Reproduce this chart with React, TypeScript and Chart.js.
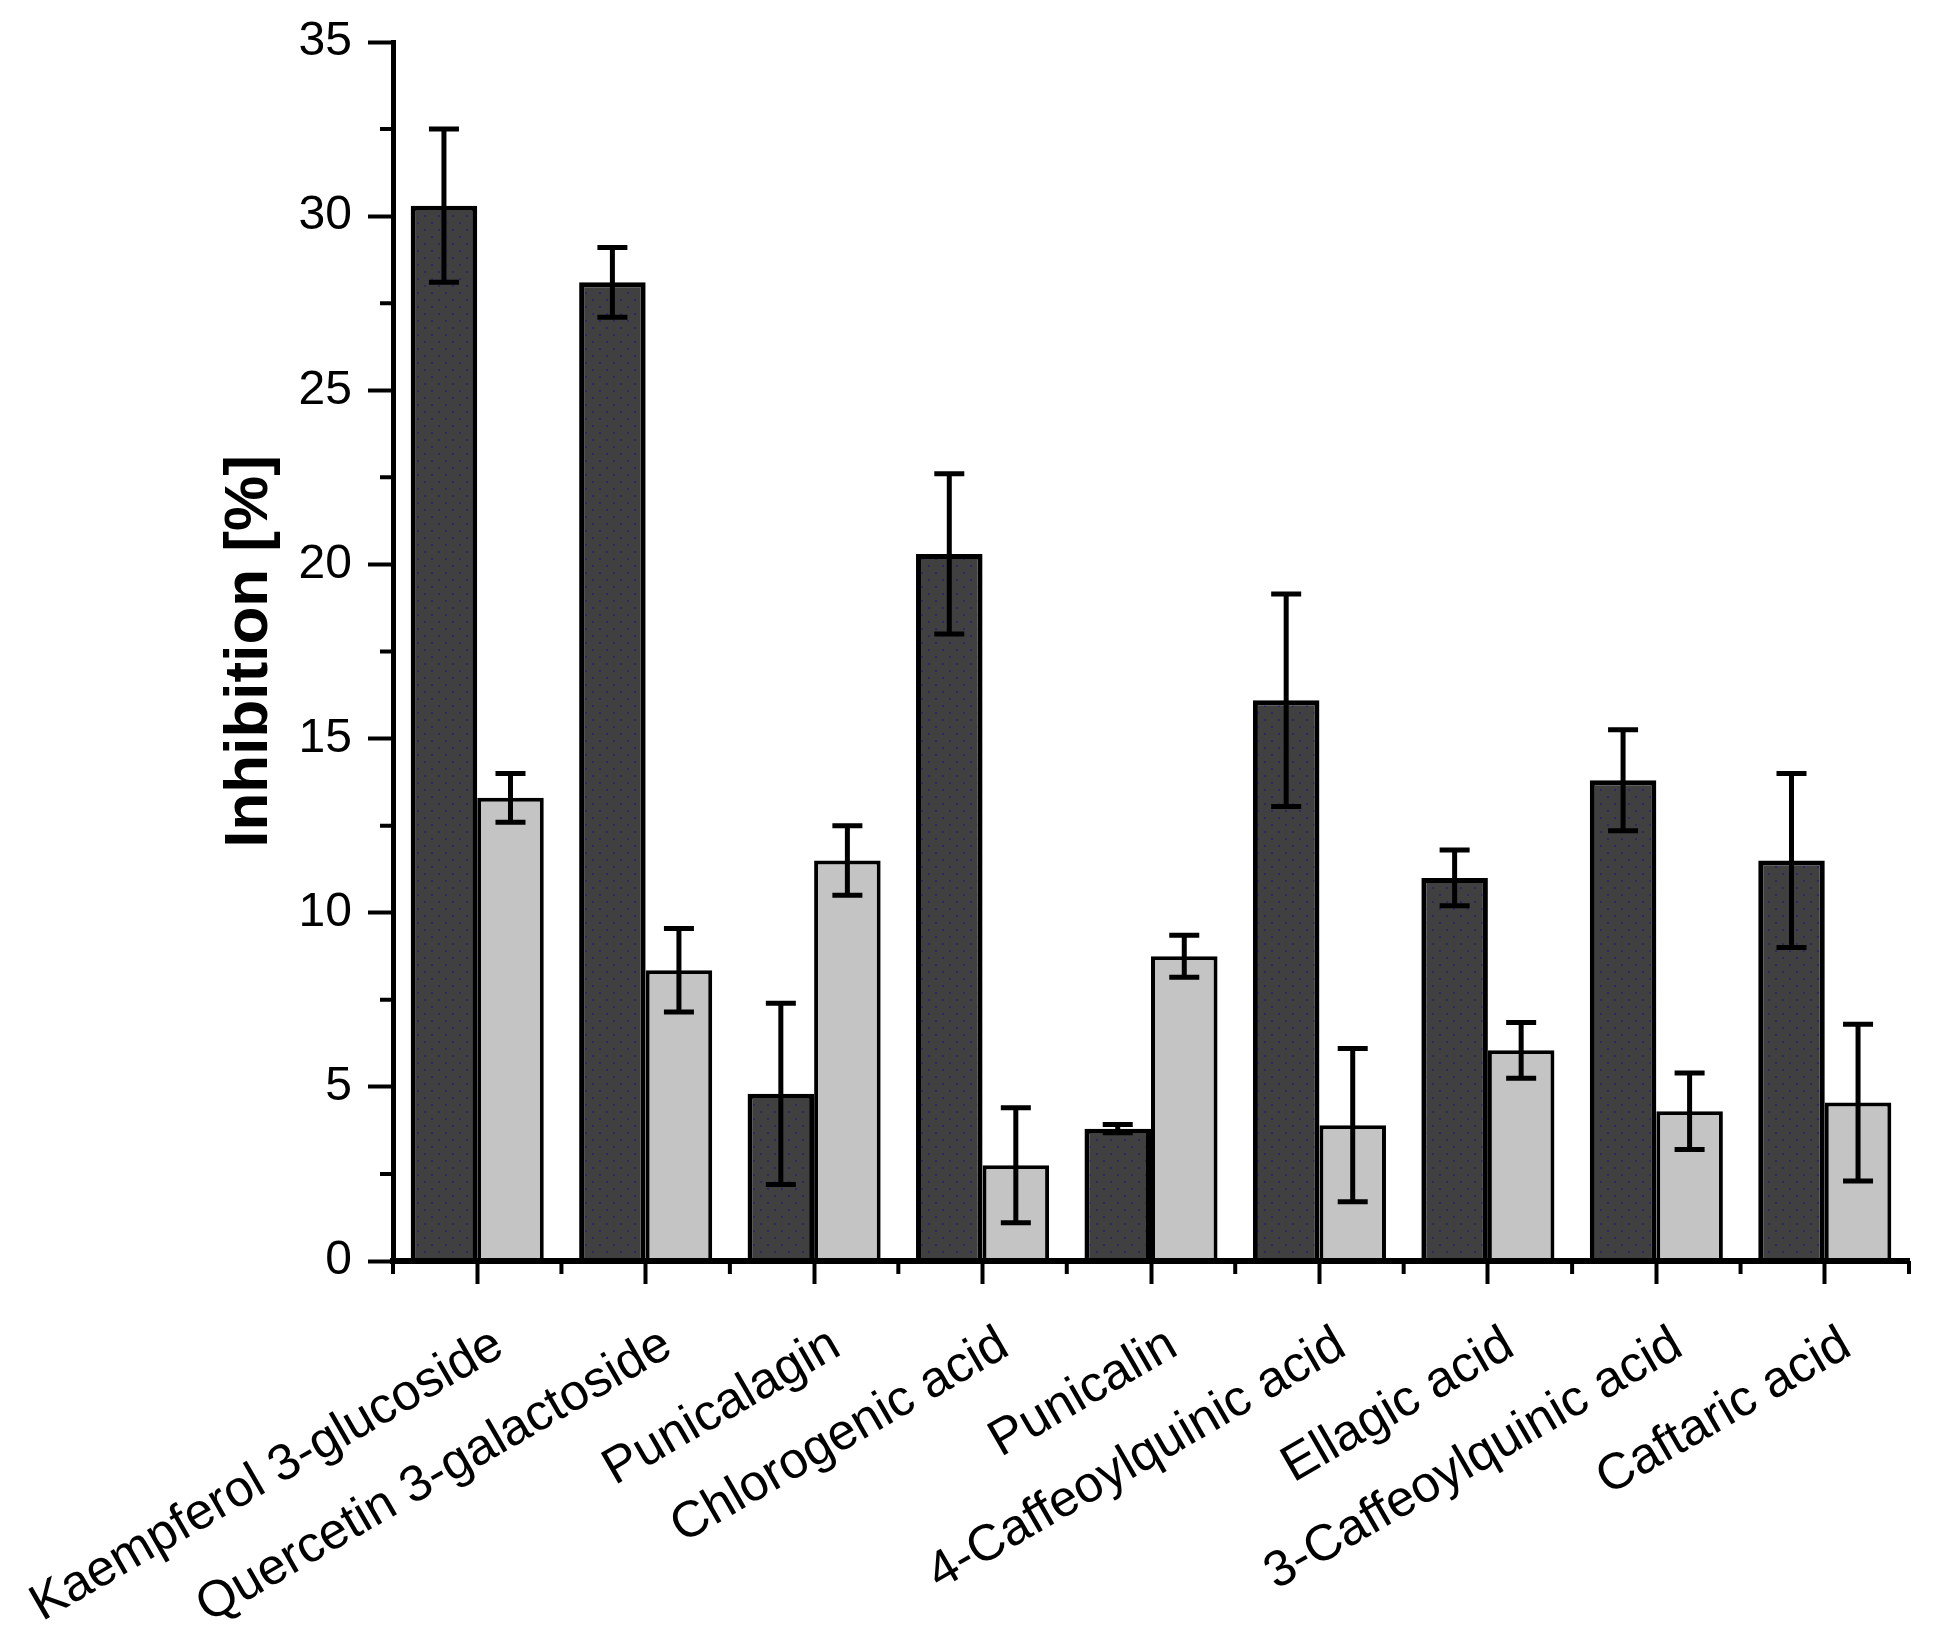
import { useEffect, useRef } from "react"
import { Chart, registerables } from "chart.js"

Chart.register(...registerables)

const compounds = [
  "Kaempferol 3-glucoside",
  "Quercetin 3-galactoside",
  "Punicalagin",
  "Chlorogenic acid",
  "Punicalin",
  "4-Caffeoylquinic acid",
  "Ellagic acid",
  "3-Caffeoylquinic acid",
  "Caftaric acid",
]
const darkValues = [30.3, 28.1, 4.8, 20.3, 3.8, 16.1, 11.0, 13.8, 11.5]
const darkErrors = [2.2, 1.0, 2.6, 2.3, 0.12, 3.05, 0.8, 1.45, 2.5]
const lightValues = [13.3, 8.35, 11.5, 2.75, 8.75, 3.9, 6.05, 4.3, 4.55]
const lightErrors = [0.7, 1.2, 1.0, 1.65, 0.6, 2.2, 0.8, 1.1, 2.25]
const yMin = 0
const yMax = 35
const yStep = 5

const FONT = "Arial, 'Liberation Sans', sans-serif"

function makeDotPattern(): CanvasPattern | string {
  const tile = document.createElement("canvas")
  tile.width = 14
  tile.height = 14
  const c = tile.getContext("2d")
  if (!c) return "#404040"
  c.fillStyle = "#404040"
  c.fillRect(0, 0, 14, 14)
  c.fillStyle = "#2c2a5c"
  c.fillRect(3, 4, 2, 2)
  c.fillRect(10, 11, 2, 2)
  return c.createPattern(tile, "repeat") || "#404040"
}

// error bars, drawn on top of every bar
const errorBarPlugin = {
  id: "errorBars",
  afterDatasetsDraw(chart: any) {
    const ctx = chart.ctx
    const y = chart.scales.y
    chart.data.datasets.forEach((ds: any, di: number) => {
      const meta = chart.getDatasetMeta(di)
      meta.data.forEach((bar: any, i: number) => {
        const v = ds.data[i]
        const e = ds.errors[i]
        const top = y.getPixelForValue(v + e)
        const bottom = y.getPixelForValue(v - e)
        ctx.save()
        ctx.strokeStyle = "#000"
        ctx.lineWidth = 5
        ctx.beginPath()
        ctx.moveTo(bar.x, top)
        ctx.lineTo(bar.x, bottom)
        ctx.moveTo(bar.x - 15, top)
        ctx.lineTo(bar.x + 15, top)
        ctx.moveTo(bar.x - 15, bottom)
        ctx.lineTo(bar.x + 15, bottom)
        ctx.stroke()
        ctx.restore()
      })
    })
  },
}

// short minor ticks: between categories on x, half steps on y
const minorTickPlugin = {
  id: "minorTicks",
  afterDraw(chart: any) {
    const ctx = chart.ctx
    const { x, y } = chart.scales
    const area = chart.chartArea
    ctx.save()
    ctx.strokeStyle = "#000"
    ctx.lineWidth = 4
    ctx.beginPath()
    for (let i = 0; i <= compounds.length; i++) {
      const px = x.getPixelForValue(i - 0.5)
      ctx.moveTo(px, area.bottom)
      ctx.lineTo(px, area.bottom + 13)
    }
    for (let v = yMin + yStep / 2; v < yMax; v += yStep) {
      const py = y.getPixelForValue(v)
      ctx.moveTo(area.left, py)
      ctx.lineTo(area.left - 13, py)
    }
    ctx.stroke()
    // axis line redrawn over the bar bases
    ctx.lineWidth = 6
    ctx.beginPath()
    ctx.moveTo(area.left - 3, area.bottom)
    ctx.lineTo(area.right, area.bottom)
    ctx.stroke()
    ctx.restore()
  },
}

export default function App() {
  const canvasRef = useRef<HTMLCanvasElement>(null)
  const chartRef = useRef<Chart | null>(null)

  useEffect(() => {
    if (!canvasRef.current) return
    if (chartRef.current) chartRef.current.destroy()
    const ctx = canvasRef.current.getContext("2d")
    if (!ctx) return

    chartRef.current = new Chart(ctx, {
      type: "bar",
      data: {
        labels: compounds,
        datasets: [
          {
            data: darkValues,
            errors: darkErrors,
            backgroundColor: makeDotPattern(),
            borderColor: "#000",
            borderWidth: 5,
            categoryPercentage: 0.79,
            barPercentage: 1,
          } as any,
          {
            data: lightValues,
            errors: lightErrors,
            backgroundColor: "#c4c4c4",
            borderColor: "#000",
            borderWidth: 4,
            categoryPercentage: 0.79,
            barPercentage: 1,
          } as any,
        ],
      },
      options: {
        animation: false,
        responsive: true,
        maintainAspectRatio: false,
        layout: { padding: { top: 34, right: 16, left: 0, bottom: 0 } },
        plugins: {
          legend: { display: false },
          tooltip: { enabled: false },
        },
        scales: {
          x: {
            afterFit: (scale: any) => {
              scale.height = 367
              scale.paddingLeft = 0
              scale.paddingRight = 0
            },
            grid: {
              offset: false,
              drawOnChartArea: false,
              tickLength: 23,
              tickWidth: 4,
              tickColor: "#000",
            },
            border: { display: true, color: "#000", width: 6 },
            ticks: {
              autoSkip: false,
              minRotation: 30,
              maxRotation: 30,
              padding: 31,
              labelOffset: 22,
              color: "#000",
              font: { family: FONT, size: 51 },
            },
          },
          y: {
            min: yMin,
            max: yMax,
            afterFit: (scale: any) => {
              scale.width = 385
              scale.paddingTop = 0
              scale.paddingBottom = 0
            },
            grid: {
              drawOnChartArea: false,
              tickLength: 25,
              tickWidth: 4,
              tickColor: "#000",
            },
            border: { display: true, color: "#000", width: 5 },
            ticks: {
              stepSize: yStep,
              padding: 16,
              color: "#000",
              font: { family: FONT, size: 48 },
            },
            title: {
              display: true,
              text: "Inhibition [%]",
              color: "#000",
              padding: { top: 205, bottom: 0 },
              font: { family: FONT, size: 62, weight: "bold" },
            },
          },
        },
      },
      plugins: [errorBarPlugin, minorTickPlugin],
    })

    return () => {
      if (chartRef.current) chartRef.current.destroy()
    }
  }, [])

  return (
    <div style={{ width: 1917, height: 1620, position: "relative" }}>
      <canvas ref={canvasRef} />
    </div>
  )
}
